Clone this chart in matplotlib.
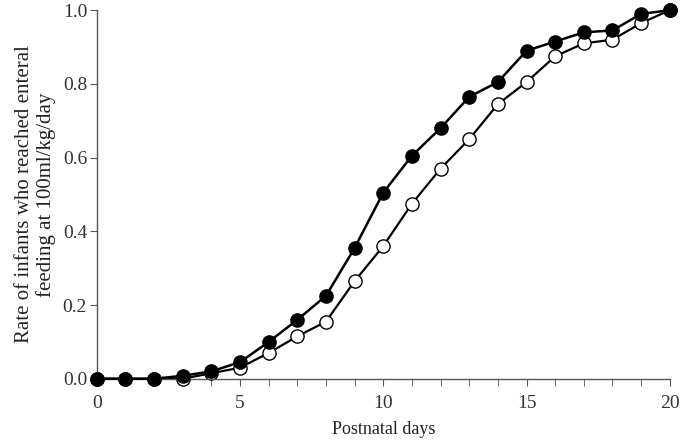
import matplotlib
matplotlib.use('Agg')
import matplotlib.pyplot as plt
from matplotlib.ticker import MultipleLocator, FormatStrFormatter

days = list(range(21))
filled_rate = [0.0, 0.0, 0.0, 0.008, 0.02, 0.045, 0.10, 0.16, 0.225, 0.355, 0.505,
               0.605, 0.68, 0.765, 0.805, 0.89, 0.915, 0.94, 0.945, 0.99, 1.0]
open_rate = [0.0, 0.0, 0.0, 0.0, 0.015, 0.03, 0.07, 0.115, 0.155, 0.265, 0.36,
             0.475, 0.57, 0.65, 0.745, 0.805, 0.875, 0.91, 0.92, 0.965, 1.0]

plt.rcParams['font.family'] = ['Liberation Serif', 'DejaVu Serif']

fig = plt.figure(figsize=(6.82, 4.44), dpi=100)
ax = fig.add_axes([0.142, 0.147, 0.84, 0.83])

ax.plot(days, open_rate, '-o', color='black', lw=1.6, ms=9.5,
        markerfacecolor='white', markeredgecolor='black', mew=1.0, zorder=2, clip_on=False)
ax.plot(days, filled_rate, '-o', color='black', lw=1.8, ms=9.5,
        markerfacecolor='black', markeredgecolor='black', zorder=3, clip_on=False)

ax.set_xlim(0, 20)
ax.set_ylim(0, 1.0)
ax.xaxis.set_major_locator(MultipleLocator(5))
ax.xaxis.set_minor_locator(MultipleLocator(1))
ax.yaxis.set_major_locator(MultipleLocator(0.2))
ax.yaxis.set_major_formatter(FormatStrFormatter('%.1f'))
for s in ['top', 'right']:
    ax.spines[s].set_visible(False)
for s in ['left', 'bottom']:
    ax.spines[s].set_color('#555555')
    ax.spines[s].set_linewidth(1.0)
ax.tick_params(which='both', direction='out', colors='#555555', labelcolor='#333333', labelsize=14)
ax.tick_params(which='both', length=5)
ax.tick_params(axis='x', pad=7)
ax.tick_params(axis='y', pad=2)

ax.set_xlabel('Postnatal days', fontsize=13, labelpad=6, color='#222222')
ax.set_ylabel('Rate of infants who reached enteral\nfeeding at 100ml/kg/day',
              fontsize=15, labelpad=5, color='#222222', linespacing=1.1)

fig.savefig('out.png', dpi=100)
